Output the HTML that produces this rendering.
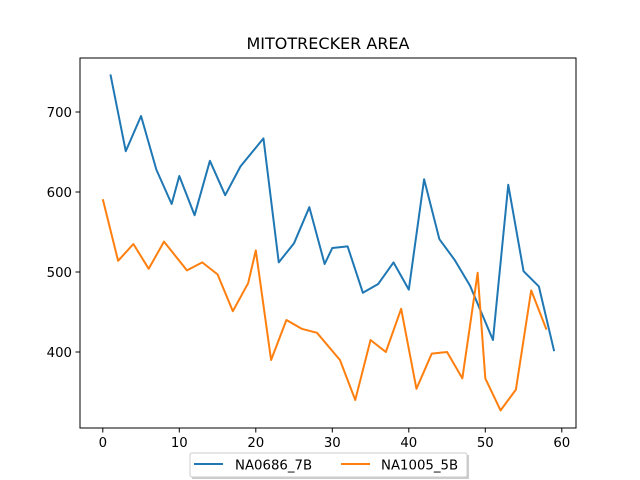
<!DOCTYPE html>
<html><head><meta charset="utf-8"><style>body{margin:0;background:#fff}svg{display:block;font-family:"DejaVu Sans","Liberation Sans",sans-serif}</style></head>
<body>
<svg id="chart" width="640" height="480" xmlns="http://www.w3.org/2000/svg">
<rect width="640" height="480" fill="#fff"/>
<text x="328" y="49" text-anchor="middle" font-size="16">MITOTRECKER AREA</text>
<g id="plot"></g>
<rect x="80" y="58" width="496" height="370" fill="none" stroke="#000" stroke-width="1"/>
<g>
<rect x="192" y="455" width="277" height="24" fill="#999" opacity="0.5"/>
<rect x="190" y="453" width="277" height="24" fill="#fff" stroke="#ccc" stroke-width="1" rx="2"/>
<line x1="194" y1="464" x2="223" y2="464" stroke="#1f77b4" stroke-width="2"/>
<text x="235" y="469.5" font-size="13.3">NA0686_7B</text>
<line x1="341" y1="464" x2="370" y2="464" stroke="#ff7f0e" stroke-width="2"/>
<text x="381" y="469.5" font-size="13.3">NA1005_5B</text>
</g>
</svg>
<script>
const blueX=[1,3,5,7,9,10,12,14,16,18,21,23,25,27,29,30,32,34,36,38,40,42,44,46,48,51,53,55,57,59];
const blueY=[747,651,695,628,585,620,571,639,596,632,667,512,536,581,510,530,532,474,485,512,478,616,541,515,483,415,609,501,482,401];
const orangeX=[0,2,4,6,8,11,13,15,17,19,20,22,24,26,28,31,33,35,37,39,41,43,45,47,49,50,52,54,56,58];
const orangeY=[591,514,535,504,538,502,512,497,451,486,527,390,440,429,424,390,340,415,400,454,354,398,400,367,499,367,327,353,477,428];
const xTicks=[0,10,20,30,40,50,60];
const yTicks=[400,500,600,700];
const sx=v=>102.8+v*7.65;
const sy=v=>112-(v-700)*0.8;
const NS="http://www.w3.org/2000/svg";
const g=document.getElementById('plot');
function mk(t,a){const e=document.createElementNS(NS,t);for(const k in a)e.setAttribute(k,a[k]);g.appendChild(e);return e;}
xTicks.forEach(t=>{
 const l=mk('line',{x1:sx(t),x2:sx(t),y1:428,y2:432.5,stroke:'#000','stroke-width':1});
 
 
 const tx=mk('text',{x:sx(t),y:447,'text-anchor':'middle','font-size':13.3});
 tx.textContent=t;
 
 
});
yTicks.forEach(t=>{
 const l=mk('line',{x1:75.5,x2:80,y1:sy(t),y2:sy(t),stroke:'#000','stroke-width':1});
 
 
 const tx=mk('text',{x:72,y:sy(t)+4.8,'text-anchor':'end','font-size':13.3});
 tx.textContent=t;
 
 
});
const p1=mk('polyline',{points:blueX.map((x,i)=>sx(x)+','+sy(blueY[i])).join(' '),fill:'none',stroke:'#1f77b4','stroke-width':2,'stroke-linejoin':'round'});


const p2=mk('polyline',{points:orangeX.map((x,i)=>sx(x)+','+sy(orangeY[i])).join(' '),fill:'none',stroke:'#ff7f0e','stroke-width':2,'stroke-linejoin':'round'});


</script>
</body></html>
